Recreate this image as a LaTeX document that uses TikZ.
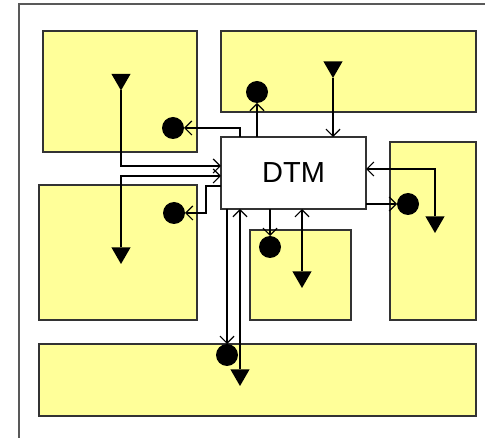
\documentclass[tikz,border=0pt]{standalone}
\usepackage{fontspec}
\setmainfont{Liberation Sans}
\usetikzlibrary{arrows.meta,shapes.geometric,shadows}
\definecolor{boxyellow}{rgb}{1,1,0.6}
\definecolor{boxline}{rgb}{0.2,0.2,0.2}

\begin{document}
\begin{tikzpicture}[x=1pt,y=-1pt,
    area/.style={draw=boxline,line width=1.3pt,fill=boxyellow,
      drop shadow={shadow xshift=1.2pt,shadow yshift=-1.2pt,fill=black!50}},
    core/.style={area,fill=white,minimum width=145pt,minimum height=72pt,
      inner sep=0pt,outer sep=0pt,font=\fontsize{29}{31}\selectfont},
    conn/.style={line width=1.2pt,-{Straight Barb[length=7pt,width=14pt]}},
    src/.style={circle,fill=black,minimum size=22pt,inner sep=0pt,outer sep=0pt},
    sink/.style={regular polygon,regular polygon sides=3,shape border rotate=180,
      fill=black,minimum size=22pt,inner sep=0pt,outer sep=0pt}]
  \useasboundingbox (0,0) rectangle (485,438);
  % Frame
  \draw[line width=1.5pt,black!65] (19,438) -- (19,4) -- (485,4);
  % Top left box
  \draw[area] (43,31) rectangle (197,152);
  % Top right box
  \draw[area] (221,31) rectangle (476,112);
  % Middle left box
  \draw[area] (39,185) rectangle (197,320);
  % Small middle box
  \draw[area] (250,230) rectangle (351,320);
  % Right box
  \draw[area] (390,142) rectangle (476,320);
  % Bottom box
  \draw[area] (39,344) rectangle (476,416);
  % DTM
  \node[core] (dtm) at (293.5,173) {DTM};
  % Markers
  \node[sink] (t1) at (121,79.5) {};
  \node[src] (c1) at (173,128) {};
  \node[sink] (t2) at (333,67) {};
  \node[src] (c2) at (257,92) {};
  \node[sink] (t6) at (121,253) {};
  \node[src] (c4) at (174,213) {};
  \node[sink] (t3) at (435,222) {};
  \node[src] (c3) at (408,204) {};
  \node[src] (c5) at (270,247) {};
  \node[sink] (t4) at (302,277) {};
  \node[src] (c6) at (227,355) {};
  \node[sink] (t5) at (240,375) {};
  % Left side
  \draw[conn] (t1.corner 1) |- ([yshift=7pt]dtm.west);
  \draw[conn] (t6.side 2) |- ([yshift=-3pt]dtm.west);
  \draw[conn] ([yshift=-13pt]dtm.west) -| (206,213) -- (c4.east);
  % Top side
  \draw[conn] ([xshift=-53.5pt]dtm.north) |- (c1.east);
  \draw[conn] (dtm.north -| c2) -- (c2.south);
  \draw[conn] (t2.corner 1) -- (t2 |- dtm.north);
  % Right side
  \draw[conn] (t3.side 2) |- ([yshift=4pt]dtm.east);
  \draw[conn] (dtm.east |- c3) -- (c3.west);
  % Bottom side
  \draw[conn] (dtm.south -| c5) -- (c5.north);
  \draw[conn] (t4.side 2) -- (t4 |- dtm.south);
  \draw[conn] (dtm.south -| c6) -- (c6.north);
  \draw[conn] (t5.side 2) -- (t5 |- dtm.south);
\end{tikzpicture}
\end{document}
